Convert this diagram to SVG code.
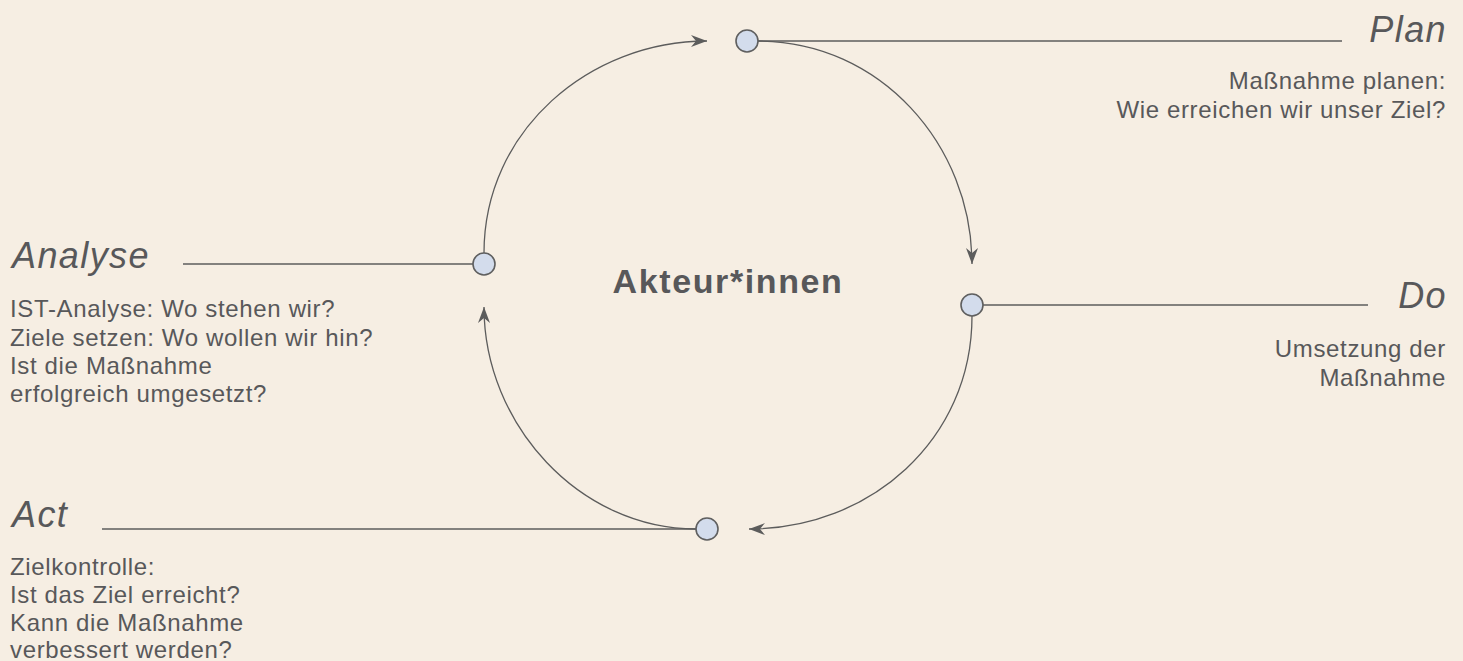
<svg xmlns="http://www.w3.org/2000/svg" width="1463" height="661" viewBox="0 0 1463 661">
<style>
.bg{fill:#f6eee3}
.node{fill:#d3dcec;stroke:#5f5f5f;stroke-width:1.6}
.lead{stroke:#5c5c5c;stroke-width:1.6;fill:none}
.arc{stroke:#5c5c5c;stroke-width:1.3;fill:none;marker-end:url(#arr)}
.title{font-family:"Liberation Sans",Arial,sans-serif;font-style:italic;font-size:36px;letter-spacing:1.4px;fill:#58585a}
.body{font-family:"Liberation Sans",Arial,sans-serif;font-size:24px;letter-spacing:0.65px;fill:#58585a}
.center{font-family:"Liberation Sans",Arial,sans-serif;font-weight:bold;font-size:34px;letter-spacing:1.6px;fill:#58585a}
</style>
<defs>
<marker id="arr" viewBox="0 0 16 12" refX="16" refY="6" markerWidth="16" markerHeight="12" markerUnits="userSpaceOnUse" orient="auto">
<path d="M0,0 L16,6 L0,12 L5,6 Z" fill="#5c5c5c"/>
</marker>
</defs>
<rect class="bg" x="0" y="0" width="1463" height="661"/>
<g id="connectors">
<path class="arc" d="M484,253 C484,130 590,41 707,41"/>
<path class="arc" d="M758,41 C880,41 972,145 972,264"/>
<path class="arc" d="M972,316 C972,440 870,529 749,529"/>
<path class="arc" d="M696,529 C580,529 484,425 484,307"/>
<line class="lead" x1="758" y1="41" x2="1342" y2="41"/>
<line class="lead" x1="983" y1="305" x2="1368" y2="305"/>
<line class="lead" x1="183" y1="264" x2="473" y2="264"/>
<line class="lead" x1="102" y1="529" x2="696" y2="529"/>
</g>
<g id="center">
<text class="center" x="728" y="293" text-anchor="middle">Akteur*innen</text>
</g>
<g id="plan">
<circle class="node" cx="747" cy="41" r="11"/>
<text class="title" x="1447" y="42" text-anchor="end">Plan</text>
<text class="body" x="1446" y="89" text-anchor="end">Maßnahme planen:</text>
<text class="body" x="1446" y="118" text-anchor="end">Wie erreichen wir unser Ziel?</text>
</g>
<g id="do">
<circle class="node" cx="972" cy="305" r="11"/>
<text class="title" x="1447" y="308" text-anchor="end">Do</text>
<text class="body" x="1446" y="357" text-anchor="end">Umsetzung der</text>
<text class="body" x="1446" y="386" text-anchor="end">Maßnahme</text>
</g>
<g id="act">
<circle class="node" cx="707" cy="529" r="11"/>
<text class="title" x="12" y="527">Act</text>
<text class="body" x="10" y="575">Zielkontrolle:</text>
<text class="body" x="10" y="603">Ist das Ziel erreicht?</text>
<text class="body" x="10" y="631">Kann die Maßnahme</text>
<text class="body" x="10" y="658">verbessert werden?</text>
</g>
<g id="analyse">
<circle class="node" cx="484" cy="264" r="11"/>
<text class="title" x="12" y="268">Analyse</text>
<text class="body" x="10" y="317">IST-Analyse: Wo stehen wir?</text>
<text class="body" x="10" y="346">Ziele setzen: Wo wollen wir hin?</text>
<text class="body" x="10" y="374">Ist die Maßnahme</text>
<text class="body" x="10" y="402">erfolgreich umgesetzt?</text>
</g>
</svg>
